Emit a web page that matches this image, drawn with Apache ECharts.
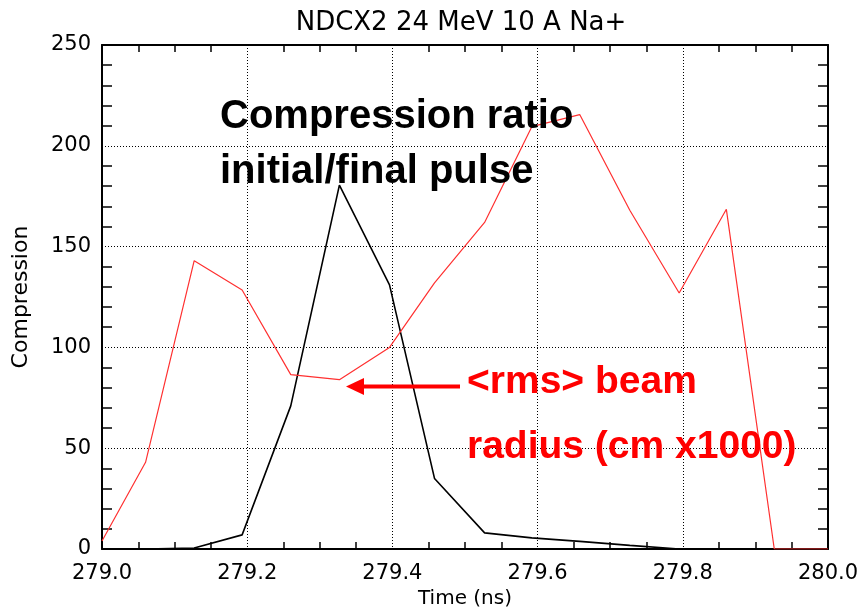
<!DOCTYPE html>
<html>
<head>
<meta charset="utf-8">
<script src="https://cdn.jsdelivr.net/npm/echarts@6/dist/echarts.min.js"></script>
<style>html,body{margin:0;padding:0;background:#fff;}#c{width:862px;height:610px;}</style>
</head>
<body>
<div id="c"></div>
<script>
// ---- data ----
var times = [279.000, 279.060, 279.127, 279.193, 279.260, 279.327, 279.396, 279.458,
             279.527, 279.592, 279.658, 279.727, 279.795, 279.860, 279.926, 280.000];
var rmsRadius = [4, 43, 143, 128.5, 86.5, 84, 100, 132, 162, 209.5, 215.5, 168, 127, 168.5, 0, 0];
var compression = [0, 0, 0.5, 7, 71, 180.5, 131, 35, 8, 5.5, 3.8, 1.8, 0, 0, 0, 0];
var xTicks = ['279.0', '279.2', '279.4', '279.6', '279.8', '280.0'];
var yTicks = ['0', '50', '100', '150', '200', '250'];
var titleText = 'NDCX2 24 MeV 10 A Na+';
var xName = 'Time (ns)';
var yName = 'Compression';
var note1 = ['Compression ratio', 'initial/final pulse'];
var note2 = ['<rms> beam', 'radius (cm x1000)'];

function pairs(xs, ys) { return xs.map(function (x, i) { return [x, ys[i]]; }); }

var chart = echarts.init(document.getElementById('c'), null, { renderer: 'canvas' });
var axisFont = 'DejaVu Sans';
var dotted = { type: [1, 2], color: '#000', width: 1 };

function xAxisCfg(pos, showLabel) {
  return {
    type: 'value', position: pos, min: 279, max: 280, interval: 0.2,
    name: showLabel ? xName : '', nameLocation: 'middle', nameGap: 38,
    nameTextStyle: { fontFamily: axisFont, fontSize: 20, color: '#000' },
    axisLine: { show: true, onZero: false, lineStyle: { color: '#000', width: 2 } },
    axisTick: { show: false, inside: true },
    minorTick: { show: true, splitNumber: 4, length: 7, lineStyle: { color: '#000', width: 1.5 } },
    axisLabel: { show: showLabel, margin: 14, fontFamily: axisFont, fontSize: 21, color: '#000',
      formatter: function (v) { return xTicks[Math.round((v - 279) / 0.2)]; } },
    splitLine: { show: showLabel, lineStyle: dotted },
    minorSplitLine: { show: false }
  };
}
function yAxisCfg(pos, showLabel) {
  return {
    type: 'value', position: pos, min: 0, max: 250, interval: 50,
    name: showLabel ? yName : '', nameLocation: 'middle', nameGap: 70,
    nameTextStyle: { fontFamily: axisFont, fontSize: 22, color: '#000' },
    axisLine: { show: true, onZero: false, lineStyle: { color: '#000', width: 2 } },
    axisTick: { show: false, inside: true },
    minorTick: { show: true, splitNumber: 5, length: 10, lineStyle: { color: '#000', width: 1.5 } },
    axisLabel: { show: showLabel, margin: 11, fontFamily: axisFont, fontSize: 21, color: '#000',
      formatter: function (v) { return yTicks[Math.round(v / 50)]; } },
    splitLine: { show: showLabel, lineStyle: dotted }
  };
}

var option = {
  animation: false,
  backgroundColor: '#fff',
  grid: { left: 102, right: 34, top: 45, bottom: 61, containLabel: false, outerBoundsMode: 'none' },
  xAxis: [xAxisCfg('bottom', true), xAxisCfg('top', false)],
  yAxis: [yAxisCfg('left', true), yAxisCfg('right', false)],
  series: [
    { type: 'line', data: pairs(times, compression), symbol: 'none', z: 3,
      lineStyle: { color: '#000', width: 1.6 } },
    { type: 'line', data: pairs(times, rmsRadius), symbol: 'none', z: 4,
      lineStyle: { color: '#ff3030', width: 1.2 } }
  ],
  graphic: [
    { type: 'text', x: 461, y: 10, style: { text: titleText, textAlign: 'center', textVerticalAlign: 'top',
      fontFamily: axisFont, fontSize: 26, fill: '#000' } },
    { type: 'text', x: 220, y: 137, z: 10, style: { text: note1[0], textVerticalAlign: 'bottom',
      fontFamily: 'Liberation Sans', fontWeight: 'bold', fontSize: 40, fill: '#000' } },
    { type: 'text', x: 220, y: 192, z: 10, style: { text: note1[1], textVerticalAlign: 'bottom',
      fontFamily: 'Liberation Sans', fontWeight: 'bold', fontSize: 40, fill: '#000' } },
    { type: 'text', x: 467, y: 402, z: 10, style: { text: note2[0], textVerticalAlign: 'bottom',
      fontFamily: 'Liberation Sans', fontWeight: 'bold', fontSize: 39, fill: '#ff0000' } },
    { type: 'text', x: 467, y: 467, z: 10, style: { text: note2[1], textVerticalAlign: 'bottom',
      fontFamily: 'Liberation Sans', fontWeight: 'bold', fontSize: 39, fill: '#ff0000' } },
    { type: 'line', z: 10, shape: { x1: 360, y1: 386.5, x2: 460, y2: 386.5 },
      style: { stroke: '#ff0000', lineWidth: 4 } },
    { type: 'polygon', z: 10, shape: { points: [[346, 386.5], [364, 378], [364, 395]] },
      style: { fill: '#ff0000' } }
  ]
};
chart.setOption(option);
</script>
</body>
</html>
